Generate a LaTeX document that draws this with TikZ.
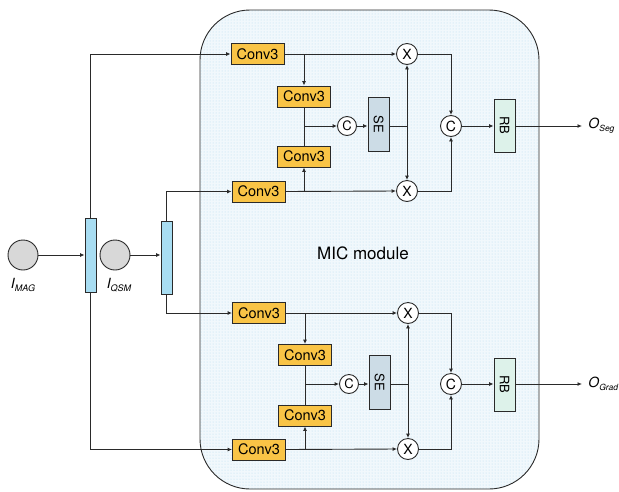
\documentclass[tikz,border=0pt]{standalone}
\usepackage{fontspec}
\setmainfont{TeX Gyre Heros}
\usetikzlibrary{arrows.meta,patterns}
\definecolor{convc}{HTML}{F9C446}
\definecolor{barc}{HTML}{A8DDF2}
\definecolor{sec}{HTML}{CCDCE6}
\definecolor{rbc}{HTML}{DDF2EA}
\definecolor{inc}{HTML}{D8D8D8}
\definecolor{modc}{HTML}{F1F8FC}
\definecolor{dotc}{HTML}{B5DDF0}
\definecolor{edge}{HTML}{2A2A2A}
\begin{document}
\begin{tikzpicture}[x=1pt,y=-1pt,
  line width=0.9pt, draw=edge,
  arr/.style={-{Latex[length=4.5pt,width=4pt]}},
  darr/.style={{Latex[length=4.5pt,width=4pt]}-{Latex[length=4.5pt,width=4pt]}},
  conv/.style={draw=edge, fill=convc, minimum width=53pt, minimum height=21pt, inner sep=0pt, font=\fontsize{14.5}{16}\selectfont},
  opx/.style={draw=edge, fill=white, circle, minimum size=21pt, inner sep=0pt, font=\fontsize{14}{16}\selectfont},
  opc/.style={draw=edge, fill=white, circle, minimum size=19pt, inner sep=0pt, font=\fontsize{13}{15}\selectfont},
  sebox/.style={draw=edge, fill=sec, minimum width=21pt, minimum height=54pt, inner sep=0pt},
  rbbox/.style={draw=edge, fill=rbc, minimum width=21pt, minimum height=53pt, inner sep=0pt},
  bar/.style={draw=edge, fill=barc, minimum width=11pt, minimum height=74pt, inner sep=0pt},
  inp/.style={draw=edge, fill=inc, circle, minimum size=30pt, inner sep=0pt},
  lbl/.style={font=\fontsize{14}{16}\selectfont\itshape, inner sep=0pt},
  rot/.style={rotate=-90, font=\fontsize{13}{15}\selectfont}
]
\useasboundingbox (0,0) rectangle (619,491);
% module
\path[fill=modc, rounded corners=50pt] (200,10) rectangle (539,489);
\path[pattern=dots, pattern color=dotc, rounded corners=50pt] (200,10) rectangle (539,489);
\draw[rounded corners=50pt] (200,10) rectangle (539,489);
\node[font=\fontsize{17}{19}\selectfont] (mic) at (363,253) {MIC module};

% top group
\node[conv] (c1) at (257.5,54) {Conv3};
\node[conv] (c2) at (304,96.5) {Conv3};
\node[conv] (c3) at (304,156.5) {Conv3};
\node[conv] (c4) at (258.5,191.5) {Conv3};
\node[opx] (xt) at (407,54) {X};
\node[opx] (xb) at (407,191) {X};
\node[opc] (cs) at (347,126) {C};
\node[sebox] (se) at (378.5,124) {};
\node[rot] (setxt) at (se) {SE};
\node[opx] (cb) at (451,126) {C};
\node[rbbox] (rb) at (504.5,125.5) {};
\node[rot] (rbtxt) at (rb) {RB};
\coordinate (oseg) at (582,126);
\node[lbl, anchor=west] (osegl) at (588,126) {O\raisebox{-3pt}{\fontsize{8.5}{10}\selectfont Seg}};

\draw[arr] (c1.east) -- (xt.west);
\draw[arr] (c1.east -| c2.north) -- (c2.north);
\draw[arr] (c4.east) -- (xb.west);
\draw[arr] (c4.east -| c3.south) -- (c3.south);
\draw (c2.south) -- (c3.north);
\draw[arr] (cs.west -| c2.south) -- (cs.west);
\draw[arr] (cs.east) -- (cs.east -| se.west);
\draw (se.east |- cs.east) -- (cs.east -| xt.south);
\draw[darr] (xt.south) -- (xb.north);
\draw[arr] (xt.east) -| (cb.north);
\draw[arr] (xb.east) -| (cb.south);
\draw[arr] (cb.east) -- (cb.east -| rb.west);
\draw[arr] (cb.east -| rb.east) -- (oseg);

% bottom group
\node[conv] (d1) at (259,313) {Conv3};
\node[conv] (d2) at (305,355) {Conv3};
\node[conv] (d3) at (305,415.5) {Conv3};
\node[conv] (d4) at (259,449.5) {Conv3};
\node[opx] (yt) at (408,313) {X};
\node[opx] (yb) at (408,449) {X};
\node[opc] (ds) at (349,384) {C};
\node[sebox] (dse) at (379.5,382.5) {};
\node[rot] (dsetxt) at (dse) {SE};
\node[opx] (db) at (451,384) {C};
\node[rbbox] (drb) at (504.5,384.5) {};
\node[rot] (drbtxt) at (drb) {RB};
\coordinate (ograd) at (582,384);
\node[lbl, anchor=west] (ogradl) at (588,384) {O\raisebox{-3pt}{\fontsize{8.5}{10}\selectfont Grad}};

\draw[arr] (d1.east) -- (yt.west);
\draw[arr] (d1.east -| d2.north) -- (d2.north);
\draw[arr] (d4.east) -- (yb.west);
\draw[arr] (d4.east -| d3.south) -- (d3.south);
\draw (d2.south) -- (d3.north);
\draw[arr] (ds.west -| d2.south) -- (ds.west);
\draw[arr] (ds.east) -- (ds.east -| dse.west);
\draw (dse.east |- ds.east) -- (ds.east -| yt.south);
\draw[darr] (yt.south) -- (yb.north);
\draw[arr] (yt.east) -| (db.north);
\draw[arr] (yb.east) -| (db.south);
\draw[arr] (db.east) -- (db.east -| drb.west);
\draw[arr] (db.east -| drb.east) -- (ograd);

% inputs
\node[inp] (mag) at (23,255) {};
\node[lbl] (magl) at (23,285) {I\raisebox{-3pt}{\fontsize{9}{10}\selectfont MAG}};
\node[bar] (b1) at (90.5,255) {};
\node[inp] (qsm) at (115,255) {};
\node[lbl] (qsml) at (119,285) {I\raisebox{-3pt}{\fontsize{9}{10}\selectfont QSM}};
\node[bar, minimum height=73pt] (b2) at (166.5,257.5) {};

\draw[arr] (mag.east) -- (mag.east -| b1.west);
\draw[arr] (qsm.east) -- (qsm.east -| b2.west);
\draw[arr] (b1.north) |- (c1.west);
\draw[arr] (b1.south) |- (d4.west);
\draw[arr] (b2.north) |- (c4.west);
\draw[arr] (b2.south) |- (d1.west);
\end{tikzpicture}
\end{document}
